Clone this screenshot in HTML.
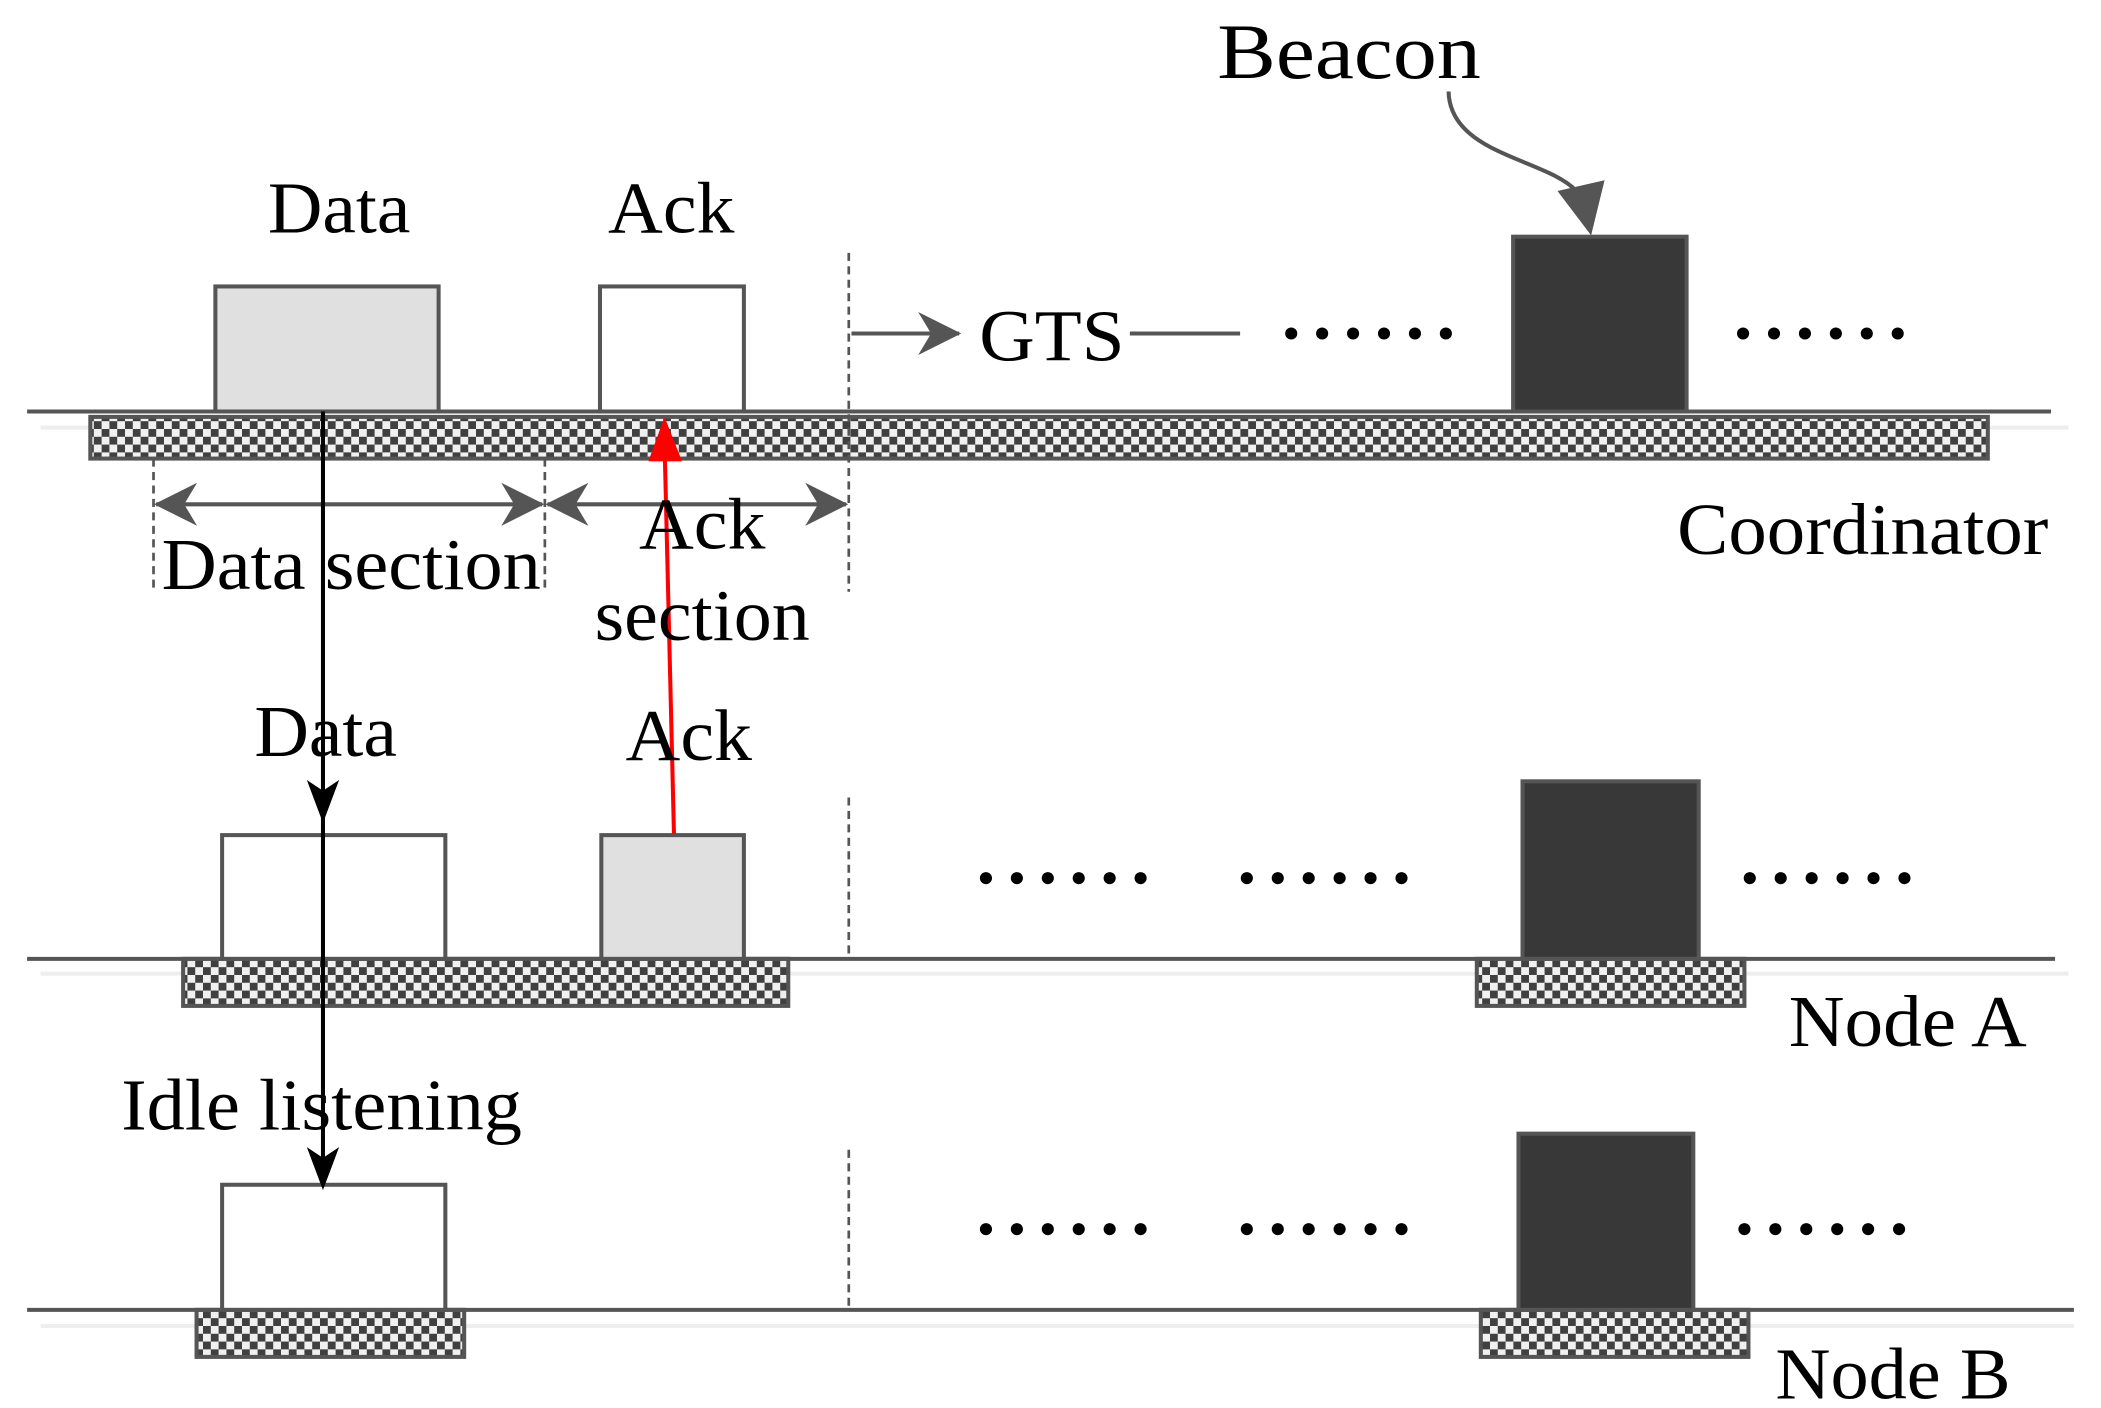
<!DOCTYPE html>
<html><head><style>html,body{margin:0;padding:0;background:#fff;}svg{display:block;}</style></head>
<body>
<svg width="2101" height="1408" viewBox="0 0 1562 1047" xmlns="http://www.w3.org/2000/svg" font-family="Liberation Serif, serif">
<defs>
<pattern id="ck" width="11.6" height="11.6" patternUnits="userSpaceOnUse">
<rect width="11.6" height="11.6" fill="#f0f0f0"/>
<rect width="5.8" height="5.8" fill="#404040"/>
<rect x="5.8" y="5.8" width="5.8" height="5.8" fill="#404040"/>
</pattern>
<marker id="ag" viewBox="0 0 10 10" refX="9.5" refY="5" markerWidth="32" markerHeight="32" orient="auto-start-reverse" markerUnits="userSpaceOnUse"><path d="M0,0 L10,5 L0,10 L3,5 z" fill="#555"/></marker>
<g id="d"><circle cx="0" cy="0" r="4.5"/><circle cx="23" cy="0" r="4.5"/><circle cx="46" cy="0" r="4.5"/><circle cx="69" cy="0" r="4.5"/><circle cx="92" cy="0" r="4.5"/><circle cx="115" cy="0" r="4.5"/></g>
</defs>
<g stroke="#eee" stroke-width="3">
<line x1="30" y1="318" x2="1538" y2="318"/>
<line x1="30" y1="724" x2="1538" y2="724"/>
<line x1="30" y1="986" x2="1542" y2="986"/>
</g>
<g stroke="#555" stroke-width="3">
<rect x="67" y="310" width="1411" height="31" fill="url(#ck)"/>
<rect x="136" y="713" width="450" height="35" fill="url(#ck)"/>
<rect x="1098" y="713" width="199" height="35" fill="url(#ck)"/>
<rect x="146" y="974" width="199" height="35" fill="url(#ck)"/>
<rect x="1101" y="974" width="199" height="35" fill="url(#ck)"/>
<line x1="20" y1="306" x2="1525" y2="306"/>
<line x1="20" y1="713" x2="1528" y2="713"/>
<line x1="20" y1="974" x2="1542" y2="974"/>
<rect x="160" y="213" width="166" height="93" fill="#e0e0e0"/>
<rect x="446" y="213" width="107" height="93" fill="#fff"/>
<rect x="1125" y="176" width="129" height="130" fill="#383838"/>
<rect x="165" y="621" width="166" height="92" fill="#fff"/>
<rect x="447" y="621" width="106" height="92" fill="#e0e0e0"/>
<rect x="1132" y="581" width="131" height="132" fill="#383838"/>
<rect x="165" y="881" width="166" height="93" fill="#fff"/>
<rect x="1129" y="843" width="130" height="131" fill="#383838"/>
</g>
<g stroke="#555" stroke-width="2" stroke-dasharray="6,4">
<line x1="631" y1="188" x2="631" y2="440"/>
<line x1="114" y1="341" x2="114" y2="440"/>
<line x1="405" y1="341" x2="405" y2="440"/>
<line x1="631" y1="593" x2="631" y2="713"/>
<line x1="631" y1="855" x2="631" y2="974"/>
</g>
<g stroke="#555" stroke-width="3" fill="none">
<line x1="633" y1="248" x2="713" y2="248" marker-end="url(#ag)"/>
<line x1="840" y1="248" x2="922" y2="248"/>
<line x1="116" y1="375" x2="403" y2="375" marker-start="url(#ag)" marker-end="url(#ag)"/>
<line x1="407" y1="375" x2="629" y2="375" marker-start="url(#ag)" marker-end="url(#ag)"/>
<path d="M1077,68 C1078,115 1150,118 1172,142"/>
</g>
<path d="M1158,142 L1193,134 L1183,175 z" fill="#555"/>
<g stroke="#000" stroke-width="3">
<line x1="240" y1="306" x2="240" y2="880"/>
</g>
<path d="M228,580 L240,612 L252,580 L240,588 z" fill="#000"/>
<path d="M228,853 L240,885 L252,853 L240,861 z" fill="#000"/>
<line x1="501" y1="620" x2="494" y2="330" stroke="#f00" stroke-width="3"/>
<path d="M482,343 L494,310 L507,343 z" fill="#f00"/>
<g font-size="54" fill="#000">
<text x="252" y="173" text-anchor="middle" textLength="106" lengthAdjust="spacingAndGlyphs">Data</text>
<text x="499" y="173" text-anchor="middle" textLength="94" lengthAdjust="spacingAndGlyphs">Ack</text>
<text x="728" y="268" textLength="108" lengthAdjust="spacingAndGlyphs">GTS</text>
<text x="905" y="58" font-size="58" textLength="196" lengthAdjust="spacingAndGlyphs">Beacon</text>
<text x="120" y="438" textLength="282" lengthAdjust="spacingAndGlyphs">Data section</text>
<text x="522" y="408" text-anchor="middle" textLength="94" lengthAdjust="spacingAndGlyphs">Ack</text>
<text x="522" y="476" text-anchor="middle" textLength="160" lengthAdjust="spacingAndGlyphs">section</text>
<text x="1247" y="412" textLength="276" lengthAdjust="spacingAndGlyphs">Coordinator</text>
<text x="242" y="562" text-anchor="middle" textLength="106" lengthAdjust="spacingAndGlyphs">Data</text>
<text x="512" y="565" text-anchor="middle" textLength="94" lengthAdjust="spacingAndGlyphs">Ack</text>
<text x="1330" y="778" textLength="177" lengthAdjust="spacingAndGlyphs">Node A</text>
<text x="90" y="840" textLength="298" lengthAdjust="spacingAndGlyphs">Idle listening</text>
<text x="1320" y="1040" textLength="175" lengthAdjust="spacingAndGlyphs">Node B</text>
</g>
<g fill="#000">
<use href="#d" x="960" y="248"/>
<use href="#d" x="1296" y="248"/>
<use href="#d" x="733" y="653"/>
<use href="#d" x="927" y="653"/>
<use href="#d" x="1301" y="653"/>
<use href="#d" x="733" y="914"/>
<use href="#d" x="927" y="914"/>
<use href="#d" x="1297" y="914"/>
</g>
</svg>
</body></html>
